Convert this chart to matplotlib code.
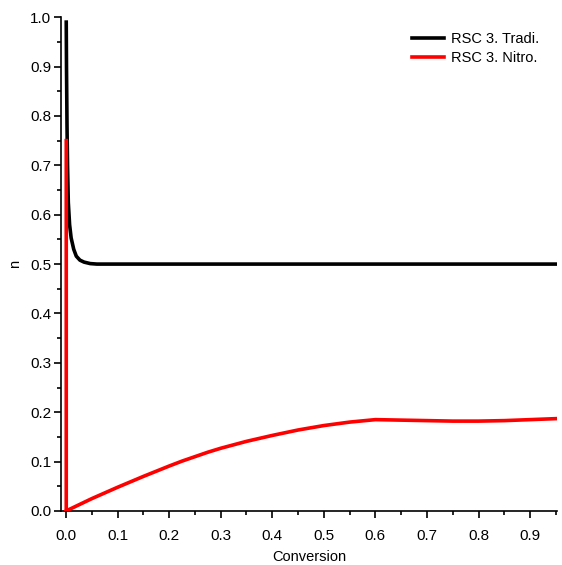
import matplotlib
matplotlib.use("Agg")
import matplotlib.pyplot as plt
from matplotlib.ticker import MultipleLocator

plt.rcParams['font.family'] = ['Liberation Sans', 'DejaVu Sans']

# Data
tradi_x = [0.0005, 0.001, 0.002, 0.003, 0.0045, 0.007, 0.010, 0.015, 0.020, 0.027, 0.035, 0.047, 0.060, 0.950]
tradi_y = [0.990, 0.900, 0.780, 0.700, 0.625, 0.580, 0.553, 0.530, 0.516, 0.508, 0.504, 0.501, 0.500, 0.500]

nitro_x = [0.0005, 0.0005, 0.000, 0.050, 0.100, 0.150, 0.200, 0.225, 0.250, 0.275, 0.300, 0.350, 0.400, 0.450,
           0.500, 0.550, 0.600, 0.650, 0.700, 0.750, 0.800, 0.850, 0.900, 0.950]
nitro_y = [0.750, 0.000, 0.000, 0.025, 0.048, 0.070, 0.091, 0.101, 0.110, 0.119, 0.127, 0.141, 0.153, 0.164,
           0.173, 0.180, 0.185, 0.184, 0.183, 0.182, 0.182, 0.183, 0.185, 0.187]

labels = ["RSC 3. Tradi.", "RSC 3. Nitro."]

fig = plt.figure(figsize=(5.62, 5.65), dpi=100)
ax = fig.add_axes([0.1085, 0.0956, 0.8825, 0.874])

ax.plot(tradi_x, tradi_y, color='black', lw=2.6, label=labels[0], zorder=2)
ax.plot(nitro_x, nitro_y, color='#ff0000', lw=2.6, label=labels[1], zorder=3)

ax.set_xlim(-0.0097, 0.952)
ax.set_ylim(0, 1.0)
ax.xaxis.set_minor_locator(MultipleLocator(0.05))
ax.yaxis.set_minor_locator(MultipleLocator(0.05))
ax.set_xticks([i / 10 for i in range(10)])
ax.set_xticklabels([f"{i/10:.1f}" for i in range(10)])
ax.set_yticks([i / 10 for i in range(11)])
ax.set_yticklabels([f"{i/10:.1f}" for i in range(11)])

for s in ['top', 'right']:
    ax.spines[s].set_visible(False)
for s in ['left', 'bottom']:
    ax.spines[s].set_linewidth(1.2)

ax.tick_params(which='major', direction='out', length=5, width=1.2, labelsize=11, pad=2)
ax.tick_params(which='minor', direction='out', length=3, width=1.2)
ax.tick_params(axis='x', which='major', pad=8)

ax.set_xlabel("Conversion", fontsize=10.5, labelpad=5)
ax.set_ylabel("n", fontsize=10.5)
ax.yaxis.set_label_coords(-0.079, 0.5)

ax.legend(loc='upper right', frameon=False, fontsize=10.5, handlelength=2.2,
          handletextpad=0.5, labelspacing=0.3, borderaxespad=0.3,
          bbox_to_anchor=(0.985, 0.99))

fig.savefig("out.png", dpi=100)
